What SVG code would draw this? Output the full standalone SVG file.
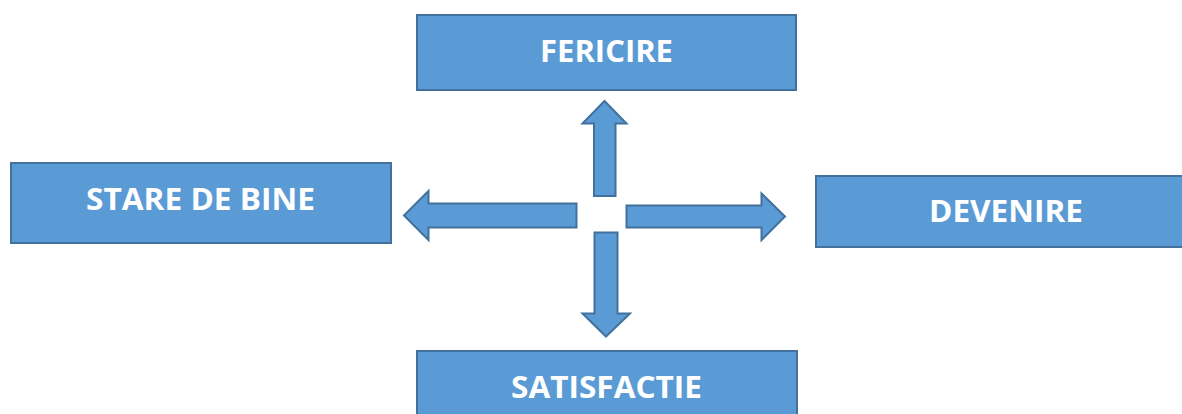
<svg xmlns="http://www.w3.org/2000/svg" width="1182" height="414" viewBox="0 0 1182 414">
<style>
.box{fill:#5B9BD5;stroke:#41719C;stroke-width:2}
.arr{fill:#5B9BD5;stroke:#41719C;stroke-width:2;stroke-linejoin:miter}
.lbl{font-family:"Open Sans","Liberation Sans",sans-serif;font-weight:bold;font-size:31px;fill:#FFFFFF;text-anchor:middle}
</style>
<rect width="1182" height="414" fill="#FFFFFF"/>
<g id="node-fericire">
<rect class="box" x="417" y="15" width="379" height="75"/>
<text class="lbl" x="606.5" y="62" textLength="133" lengthAdjust="spacingAndGlyphs">FERICIRE</text>
</g>
<g id="node-stare-de-bine">
<rect class="box" x="11" y="163" width="380" height="80"/>
<text class="lbl" x="200.5" y="210" textLength="229" lengthAdjust="spacingAndGlyphs">STARE DE BINE</text>
</g>
<g id="node-devenire">
<rect class="box" x="816" y="176" width="372" height="71"/>
<text class="lbl" x="1006" y="222" textLength="154" lengthAdjust="spacingAndGlyphs">DEVENIRE</text>
</g>
<g id="node-satisfactie">
<rect class="box" x="417" y="351" width="380" height="70"/>
<text class="lbl" x="606.5" y="398" textLength="191" lengthAdjust="spacingAndGlyphs">SATISFACTIE</text>
</g>
<g id="connectors">
<path class="arr" d="M604.5,101 L626.5,123.5 L615.5,123.5 L615.5,196 L594,196 L594,123.5 L582.5,123.5 Z"/>
<path class="arr" d="M404,215.5 L428.5,191 L428.5,203.5 L576.5,203.5 L576.5,227.5 L428.5,227.5 L428.5,240 Z"/>
<path class="arr" d="M785,216.5 L761.5,193.5 L761.5,205.5 L626.5,205.5 L626.5,227.5 L761.5,227.5 L761.5,240 Z"/>
<path class="arr" d="M606,336.5 L630,313.5 L617.5,313.5 L617.5,232.5 L594.5,232.5 L594.5,313.5 L582.5,313.5 Z"/>
</g>
</svg>
